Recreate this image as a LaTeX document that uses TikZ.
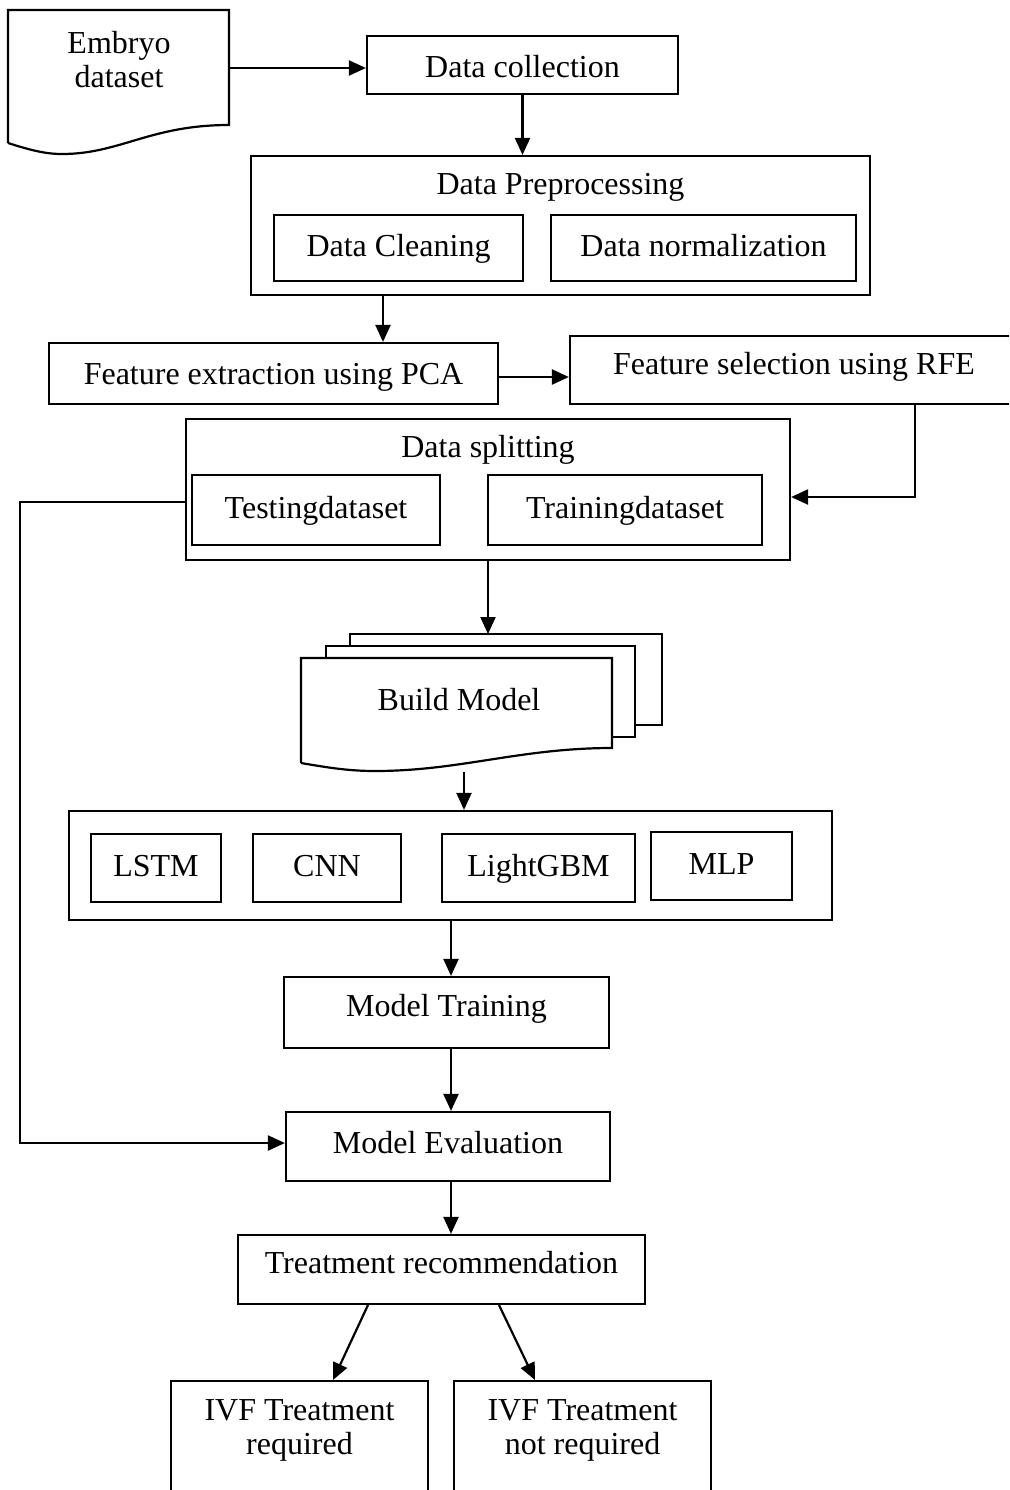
\documentclass[tikz,border=0pt]{standalone}
\usepackage{fontspec}
\setmainfont{Liberation Serif}
\usetikzlibrary{arrows.meta}
\begin{document}
\begin{tikzpicture}[x=0.5pt,y=-0.5pt,
  line width=1.1pt,
  box/.style={draw,line width=1.1pt,inner sep=0pt,text height=11pt,text depth=3pt,font=\fontsize{16}{17}\selectfont},
  txt/.style={inner sep=0pt,align=center,font=\fontsize{16}{17}\selectfont},
  arr/.style={-{Triangle[length=8.5pt,width=7.5pt]},line width=1.1pt}]
\useasboundingbox (0,0) rectangle (1009,1490);
\clip (0,0) rectangle (1009,1490);

% Embryo dataset (document shape)
\draw (8,143) -- (8,10) -- (229,10) -- (229,125)
  .. controls (150,125) and (120,154) .. (62,154)
  .. controls (45,154) and (30,150) .. (8,143);
\node[txt] (emb) at (119,60) {Embryo\\dataset};
\coordinate (embE) at (229,68);

\node[box,minimum width=155.5pt,minimum height=29pt,text height=15pt,text depth=2.4pt] (dc) at (522.5,65) {Data collection};

% Data preprocessing
\node[box,minimum width=309.5pt,minimum height=69.5pt] (dp) at (560.5,225.5) {};
\node[txt] (dpt) at (560.5,187) {Data Preprocessing};
\node[box,minimum width=124.5pt,minimum height=33pt] (dcl) at (398.5,248) {Data Cleaning};
\node[box,minimum width=152.5pt,minimum height=33pt] (dn) at (703.5,248) {Data normalization};

% Feature extraction / selection
\node[box,minimum width=224.5pt,minimum height=30.5pt,text height=13pt,text depth=2.4pt] (fe) at (273.5,373.5) {Feature extraction using PCA};
\node[box,minimum width=230pt,minimum height=34pt] (fs) at (800,370) {};
\node[txt] (fst) at (794,367) {Feature selection using RFE};

% Data splitting
\node[box,minimum width=302pt,minimum height=70.5pt] (ds) at (488,489.5) {};
\node[txt] (dst) at (488,450) {Data splitting};
\node[box,minimum width=124pt,minimum height=35pt] (te) at (316,510) {Testingdataset};
\node[box,minimum width=137pt,minimum height=35pt] (tr) at (625,510) {Trainingdataset};

% Build model (multi-document)
\draw (350,646) -- (350,634) -- (662,634) -- (662,725) -- (635,725);
\draw (326,658) -- (326,646) -- (635,646) -- (635,737) -- (612,737);
\draw (301,763) -- (301,658) -- (612,658) -- (612,748)
  .. controls (520,748) and (460,771) .. (375,771)
  .. controls (350,771) and (330,768) .. (301,763);
\node[txt] (bm) at (459,700) {Build Model};
\coordinate (bmtop) at (488,634);
\coordinate (bmbot) at (464,772);

% Models
\node[box,minimum width=381.5pt,minimum height=54.5pt] (mo) at (450.5,865.5) {};
\node[box,minimum width=65pt,minimum height=34pt] (lstm) at (156,868) {LSTM};
\node[box,minimum width=74pt,minimum height=34pt] (cnn) at (327,868) {CNN};
\node[box,minimum width=96.5pt,minimum height=34pt] (lgbm) at (538.5,868) {LightGBM};
\node[box,minimum width=70.5pt,minimum height=34pt] (mlp) at (721.5,866) {MLP};

% Training / evaluation / recommendation
\node[box,minimum width=162.5pt,minimum height=35.5pt] (mt) at (446.5,1012.5) {};
\node[txt] (mtt) at (446.5,1009) {Model Training};
\node[box,minimum width=162pt,minimum height=34.5pt] (me) at (448,1146.5) {};
\node[txt] (met) at (448,1143) {Model Evaluation};
\node[box,minimum width=203.5pt,minimum height=34.5pt] (trc) at (441.5,1269.5) {};
\node[txt] (trct) at (441.5,1263) {Treatment recommendation};

% Outcomes
\node[box,minimum width=128.5pt,minimum height=74.5pt] (ivf1) at (299.5,1455.5) {};
\node[txt] (ivf1t) at (299.5,1430) {IVF Treatment\\required};
\node[box,minimum width=128.5pt,minimum height=74.5pt] (ivf2) at (582.5,1455.5) {};
\node[txt] (ivf2t) at (582.5,1430) {IVF Treatment\\not required};

% helper coordinates
\coordinate (x383) at (383,0);
\coordinate (x451) at (451,0);
\coordinate (y377) at (0,377);
\coordinate (p1) at (915,497);
\coordinate (p2) at (20,502);
\coordinate (r1) at (368,1305);
\coordinate (r1e) at (333,1380);
\coordinate (r2) at (499,1305);
\coordinate (r2e) at (535,1380);

% connectors
\draw[arr] (embE) -- (embE -| dc.west);
\draw[arr] (dc.south) -- (dc.south |- dp.north);
\draw[arr] (dp.south -| x383) -- (fe.north -| x383);
\draw[arr] (fe.east |- y377) -- (fs.west |- y377);
\draw[arr] (fs.south -| p1) -- (p1) -- (p1 -| ds.east);
\draw[arr] (ds.west |- p2) -- (p2) -- (p2 |- met) -- (met -| me.west);
\draw[arr] (ds.south) -- (bmtop);
\draw[arr] (bmbot) -- (bmbot |- mo.north);
\draw[arr] (mo.south -| x451) -- (mt.north -| x451);
\draw[arr] (mt.south -| x451) -- (me.north -| x451);
\draw[arr] (me.south -| x451) -- (trc.north -| x451);
\draw[arr] (r1) -- (r1e);
\draw[arr] (r2) -- (r2e);
\end{tikzpicture}
\end{document}
